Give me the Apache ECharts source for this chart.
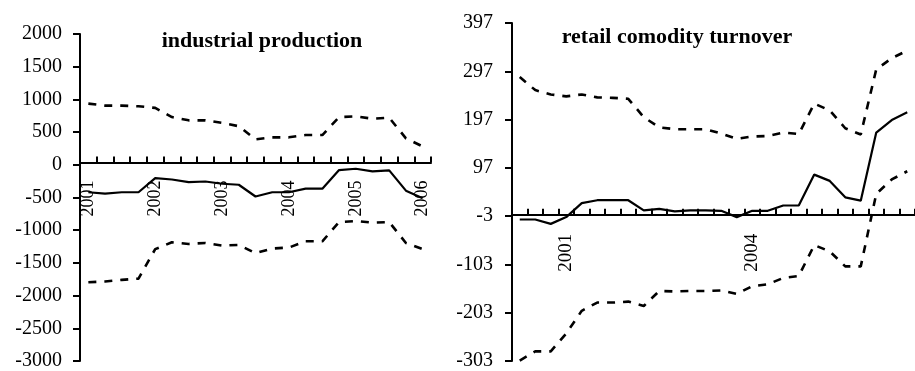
<!DOCTYPE html>
<html>
<head>
<meta charset="utf-8">
<script src="https://cdn.jsdelivr.net/npm/echarts@6/dist/echarts.min.js"></script>
<style>
html,body{margin:0;padding:0;background:#fff;}
#c{width:915px;height:371px;}
</style>
</head>
<body>
<div id="c"></div>
<script>
// ---- Left panel: industrial production (quarterly, 2001Q1..2006Q1)
var leftTickLabels = ['2001','','','','2002','','','','2003','','','','2004','','','','2005','','','','2006'];
var leftCentral = [-420,-440,-420,-420,-205,-225,-265,-255,-290,-305,-485,-420,-420,-365,-365,-80,-60,-100,-85,-395,-510];
var leftUpper   = [935,905,905,895,870,730,680,680,640,590,390,420,420,455,455,730,740,705,720,405,280];
var leftLower   = [-1795,-1785,-1760,-1740,-1290,-1185,-1210,-1195,-1235,-1225,-1350,-1280,-1265,-1170,-1170,-875,-860,-885,-875,-1195,-1290];

// ---- Right panel: retail comodity turnover (quarterly, 2000Q2..2006Q3)
var rightTickLabels = ['','','','2001','','','','','','','','','','','','2004','','','','','','','','','',''];
var rightCentral = [-10,-10,-19,-5,24,30,30,30,9,12,7,9,9,8,-5,8,8,19,19,83,70,36,29,170,196,212];
var rightUpper   = [285,258,249,245,249,243,242,240,202,181,177,177,177,168,157,162,163,170,167,230,216,179,166,301,324,340];
var rightLower   = [-302,-283,-283,-246,-199,-182,-182,-180,-189,-158,-159,-158,-158,-157,-164,-148,-144,-131,-127,-63,-76,-107,-107,43,73,90];
var rightShift = 3; // axis crosses at -3

var FONT = "'Liberation Serif','Times New Roman',serif";
function sh(a){ return a.map(function(v){ return v + rightShift; }); }

// grid geometry
var L = {left:80, top:34, width:351, height:331, min:-3000, max:2000};
var R = {left:512, top:23, width:418, height:341, min:-300, max:400};
// distance from grid bottom up to the crossing line (value 0 on each value axis)
function crossOffset(g){ return -g.height * (0 - g.min) / (g.max - g.min); }

function lineSeries(data, xi, dashed){
  return {
    type:'line', xAxisIndex:xi, yAxisIndex:xi, data:data, symbol:'none', silent:true,
    lineStyle: dashed ? {color:'#000', width:2.6, type:[8,8]} : {color:'#000', width:2.2},
    z: 3
  };
}

var chart = echarts.init(document.getElementById('c'), null, {renderer:'canvas'});
chart.setOption({
  animation:false,
  backgroundColor:'#fff',
  title:[
    {text:'industrial production', left:262, top:30, textAlign:'center', padding:0,
     textStyle:{fontFamily:FONT, fontWeight:'bold', fontSize:22, color:'#000'}},
    {text:'retail comodity turnover', left:677, top:26, textAlign:'center', padding:0,
     textStyle:{fontFamily:FONT, fontWeight:'bold', fontSize:22, color:'#000'}}
  ],
  grid:[
    {left:L.left, top:L.top, width:L.width, height:L.height, containLabel:false},
    {left:R.left, top:R.top, width:R.width, height:R.height, containLabel:false}
  ],
  xAxis:[
    {type:'category', gridIndex:0, data:leftTickLabels, boundaryGap:true, position:'bottom',
     offset:crossOffset(L),
     axisLine:{onZero:false, lineStyle:{color:'#000', width:2}},
     axisTick:{show:true, inside:true, length:6, interval:0, lineStyle:{color:'#000', width:2}},
     axisLabel:{interval:0, rotate:90, margin:18, fontFamily:FONT, fontSize:18, color:'#000'},
     splitLine:{show:false}},
    {type:'category', gridIndex:1, data:rightTickLabels, boundaryGap:true, position:'bottom',
     offset:crossOffset(R),
     axisLine:{onZero:false, lineStyle:{color:'#000', width:2}},
     axisTick:{show:true, inside:true, length:6, interval:0, lineStyle:{color:'#000', width:2}},
     axisLabel:{interval:0, rotate:90, margin:19, fontFamily:FONT, fontSize:19, color:'#000'},
     splitLine:{show:false}}
  ],
  yAxis:[
    {type:'value', gridIndex:0, min:L.min, max:L.max, interval:500,
     axisLine:{show:true, lineStyle:{color:'#000', width:2}},
     axisTick:{show:true, length:7, lineStyle:{color:'#000', width:2}},
     axisLabel:{margin:18, fontFamily:FONT, fontSize:20, color:'#000',
       formatter:function(v){ return String(v); }},
     splitLine:{show:false}},
    {type:'value', gridIndex:1, min:R.min, max:R.max, interval:100,
     axisLine:{show:true, lineStyle:{color:'#000', width:2}},
     axisTick:{show:true, length:7, lineStyle:{color:'#000', width:2}},
     axisLabel:{margin:19, fontFamily:FONT, fontSize:20, color:'#000',
       formatter:function(v){ return String(v - rightShift); }},
     splitLine:{show:false}}
  ],
  series:[
    lineSeries(leftUpper, 0, true),
    lineSeries(leftLower, 0, true),
    lineSeries(leftCentral, 0, false),
    lineSeries(sh(rightUpper), 1, true),
    lineSeries(sh(rightLower), 1, true),
    lineSeries(sh(rightCentral), 1, false)
  ]
});
</script>
</body>
</html>
